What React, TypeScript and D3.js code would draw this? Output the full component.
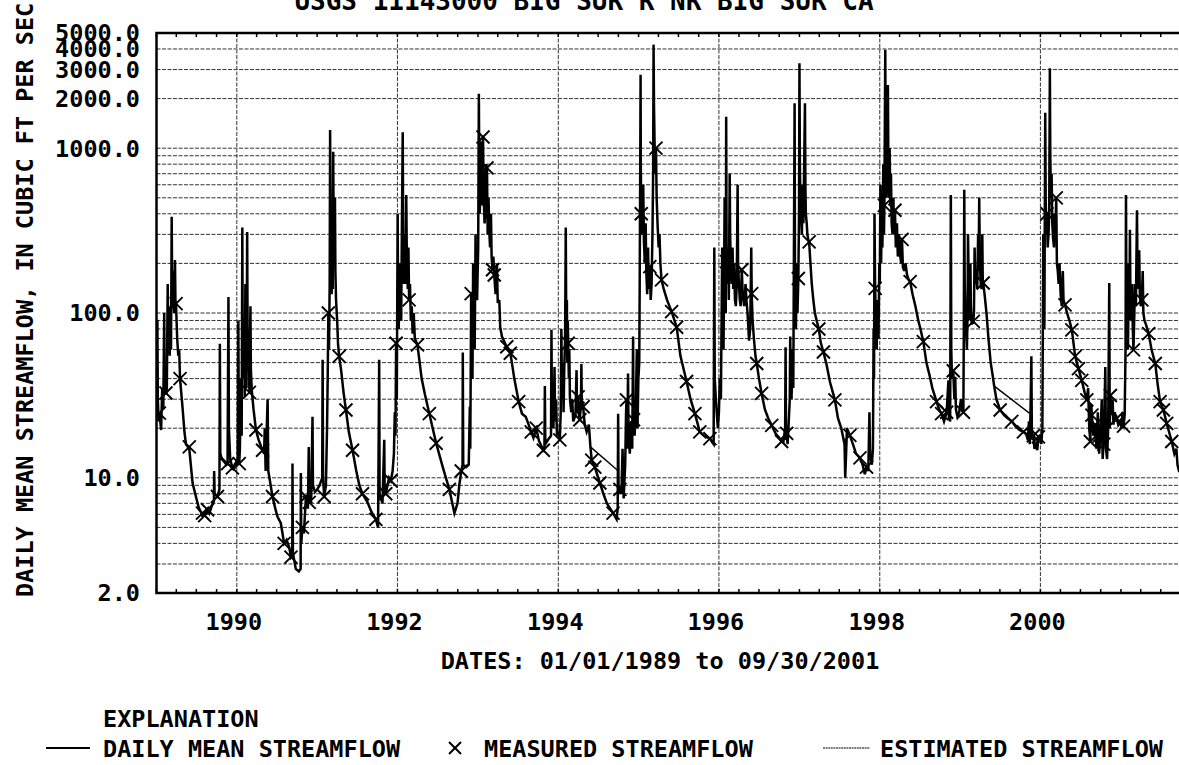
import * as d3 from 'd3';

type Obs = [string, number];

// daily mean streamflow, cubic ft per sec
const flow1989: Obs[] = [
  ['1989-01-01', 28], ['1989-01-05', 91], ['1989-01-07', 30], ['1989-01-11', 22], ['1989-01-14', 25],
  ['1989-01-22', 19.5], ['1989-01-27', 35], ['1989-02-01', 26], ['1989-02-05', 100], ['1989-02-07', 40],
  ['1989-02-13', 32], ['1989-02-17', 35], ['1989-02-21', 150], ['1989-02-24', 60], ['1989-02-27', 110],
  ['1989-03-02', 55], ['1989-03-06', 90], ['1989-03-08', 60], ['1989-03-11', 384], ['1989-03-13', 150],
  ['1989-03-16', 110], ['1989-03-19', 180], ['1989-03-22', 100], ['1989-03-26', 210], ['1989-03-28', 120],
  ['1989-03-31', 110], ['1989-04-05', 70], ['1989-04-10', 55], ['1989-04-14', 60], ['1989-04-18', 40],
  ['1989-04-30', 26], ['1989-05-08', 19], ['1989-05-15', 16], ['1989-05-30', 15], ['1989-06-06', 12],
  ['1989-06-14', 9.3], ['1989-06-29', 7.7], ['1989-07-12', 6.6], ['1989-07-29', 5.9], ['1989-08-08', 6.0],
  ['1989-08-21', 6.4], ['1989-08-29', 6.1], ['1989-09-10', 6.8], ['1989-09-19', 7.2], ['1989-09-20', 11],
  ['1989-09-22', 8], ['1989-10-05', 7.7], ['1989-10-14', 8.5], ['1989-10-16', 65], ['1989-10-18', 14],
  ['1989-10-25', 13], ['1989-11-05', 12.5], ['1989-11-15', 12], ['1989-11-20', 12.2], ['1989-11-24', 125],
  ['1989-11-26', 20], ['1989-12-02', 13], ['1989-12-12', 11.5], ['1989-12-22', 12], ['1989-12-30', 12.5],
];

const flow1990: Obs[] = [
  ['1990-01-05', 12], ['1990-01-08', 90], ['1990-01-10', 20], ['1990-01-12', 12.2], ['1990-01-15', 15],
  ['1990-01-20', 40], ['1990-01-23', 18], ['1990-01-26', 330], ['1990-01-28', 60], ['1990-02-01', 40],
  ['1990-02-04', 70], ['1990-02-06', 31], ['1990-02-09', 150], ['1990-02-11', 50], ['1990-02-14', 35],
  ['1990-02-17', 310], ['1990-02-19', 80], ['1990-02-22', 45], ['1990-02-25', 60], ['1990-02-27', 33],
  ['1990-03-04', 110], ['1990-03-06', 45], ['1990-03-10', 34], ['1990-03-18', 26], ['1990-03-29', 19.5],
  ['1990-04-10', 17], ['1990-04-28', 14.7], ['1990-05-05', 14], ['1990-05-08', 20], ['1990-05-12', 11],
  ['1990-05-16', 18], ['1990-05-21', 30], ['1990-05-24', 11], ['1990-06-01', 9.5], ['1990-06-12', 7.7],
  ['1990-06-25', 6.5], ['1990-07-05', 5.8], ['1990-07-20', 5.3], ['1990-08-04', 4.0], ['1990-08-15', 4.2],
  ['1990-08-27', 3.8], ['1990-09-04', 3.3], ['1990-09-10', 3.4], ['1990-09-11', 12.2], ['1990-09-13', 3.5],
  ['1990-09-26', 2.8], ['1990-10-10', 2.7], ['1990-10-18', 2.8], ['1990-10-19', 10.7], ['1990-10-21', 4],
  ['1990-10-26', 5.0], ['1990-11-02', 4.6], ['1990-11-11', 7.7], ['1990-11-20', 6.5], ['1990-11-24', 15.4],
  ['1990-11-26', 7.1], ['1990-12-05', 7.5], ['1990-12-11', 23.5], ['1990-12-13', 9], ['1990-12-22', 8.2],
];

const flow1991: Obs[] = [
  ['1991-01-01', 8.5], ['1991-01-12', 9], ['1991-01-24', 10], ['1991-01-26', 52], ['1991-01-28', 10],
  ['1991-02-02', 7.7], ['1991-02-10', 9], ['1991-02-15', 20], ['1991-02-18', 40], ['1991-02-21', 100],
  ['1991-02-24', 60], ['1991-02-27', 150], ['1991-03-01', 1290], ['1991-03-03', 400], ['1991-03-05', 200],
  ['1991-03-08', 130], ['1991-03-11', 250], ['1991-03-13', 140], ['1991-03-15', 950], ['1991-03-17', 350],
  ['1991-03-20', 200], ['1991-03-23', 500], ['1991-03-25', 180], ['1991-03-28', 120], ['1991-04-02', 90],
  ['1991-04-06', 65], ['1991-04-11', 54.6], ['1991-04-20', 45], ['1991-05-01', 33], ['1991-05-12', 25.8],
  ['1991-05-25', 19], ['1991-06-11', 14.7], ['1991-06-28', 11], ['1991-07-12', 9], ['1991-07-26', 8],
  ['1991-08-18', 7.1], ['1991-09-05', 6.2], ['1991-09-25', 5.6], ['1991-10-05', 5.0], ['1991-10-10', 52],
  ['1991-10-12', 8], ['1991-10-25', 7], ['1991-11-02', 17], ['1991-11-04', 8.5], ['1991-11-09', 8.0],
  ['1991-11-24', 10], ['1991-12-02', 9.6], ['1991-12-10', 11], ['1991-12-16', 14], ['1991-12-20', 25],
  ['1991-12-23', 18], ['1991-12-26', 65], ['1991-12-29', 30],
];

const flow1992: Obs[] = [
  ['1992-01-02', 400], ['1992-01-04', 120], ['1992-01-07', 80], ['1992-01-10', 200], ['1992-01-12', 100],
  ['1992-01-15', 130], ['1992-01-18', 90], ['1992-01-21', 300], ['1992-01-25', 1250], ['1992-01-27', 300],
  ['1992-01-30', 150], ['1992-02-03', 300], ['1992-02-06', 150], ['1992-02-10', 520], ['1992-02-13', 200],
  ['1992-02-17', 140], ['1992-02-20', 250], ['1992-02-23', 120], ['1992-02-27', 150], ['1992-03-02', 90],
  ['1992-03-06', 110], ['1992-03-10', 75], ['1992-03-15', 100], ['1992-03-20', 70], ['1992-04-01', 64],
  ['1992-04-20', 40], ['1992-05-05', 32], ['1992-05-25', 24.5], ['1992-06-25', 16.2], ['1992-07-25', 11.6],
  ['1992-08-24', 8.5], ['1992-09-16', 6.1], ['1992-09-30', 7], ['1992-10-08', 9], ['1992-10-17', 11],
  ['1992-10-23', 12], ['1992-10-24', 57.6], ['1992-10-26', 12], ['1992-11-09', 11.6], ['1992-11-20', 12],
  ['1992-11-25', 27], ['1992-11-27', 15], ['1992-12-01', 131], ['1992-12-03', 50], ['1992-12-07', 40],
  ['1992-12-10', 200], ['1992-12-12', 80], ['1992-12-17', 60], ['1992-12-21', 300], ['1992-12-23', 150],
  ['1992-12-28', 120],
];

const flow1993: Obs[] = [
  ['1993-01-02', 250], ['1993-01-05', 2140], ['1993-01-07', 700], ['1993-01-09', 400], ['1993-01-12', 600],
  ['1993-01-15', 1100], ['1993-01-18', 450], ['1993-01-21', 600], ['1993-01-24', 1170], ['1993-01-27', 500],
  ['1993-01-31', 350], ['1993-02-03', 400], ['1993-02-07', 800], ['1993-02-11', 760], ['1993-02-14', 300],
  ['1993-02-18', 500], ['1993-02-21', 320], ['1993-02-25', 250], ['1993-03-01', 400], ['1993-03-04', 220],
  ['1993-03-08', 183], ['1993-03-12', 220], ['1993-03-16', 170], ['1993-03-22', 130], ['1993-03-28', 200],
  ['1993-04-01', 115], ['1993-04-08', 120], ['1993-04-12', 82], ['1993-04-20', 72], ['1993-05-12', 62],
  ['1993-05-28', 57], ['1993-06-04', 50], ['1993-06-15', 40], ['1993-07-05', 29], ['1993-07-20', 24.5],
  ['1993-08-06', 23.5], ['1993-08-31', 19], ['1993-09-10', 17.5], ['1993-09-23', 20], ['1993-10-05', 16.8],
  ['1993-10-25', 14.7], ['1993-10-30', 15], ['1993-11-01', 36], ['1993-11-03', 16], ['1993-11-15', 17],
  ['1993-11-29', 18], ['1993-12-01', 79], ['1993-12-03', 25], ['1993-12-10', 20], ['1993-12-15', 47],
  ['1993-12-17', 22], ['1993-12-22', 30], ['1993-12-26', 18], ['1993-12-31', 19],
];

const flow1994: Obs[] = [
  ['1994-01-04', 18], ['1994-01-08', 17], ['1994-01-12', 25], ['1994-01-15', 80], ['1994-01-18', 30],
  ['1994-01-22', 50], ['1994-01-25', 25], ['1994-01-28', 45], ['1994-02-01', 70], ['1994-02-04', 330],
  ['1994-02-06', 90], ['1994-02-09', 120], ['1994-02-11', 50], ['1994-02-13', 90], ['1994-02-15', 65.5],
  ['1994-02-18', 40], ['1994-02-20', 60], ['1994-02-23', 30], ['1994-03-01', 25], ['1994-03-05', 30],
  ['1994-03-10', 22], ['1994-03-20', 24], ['1994-03-25', 45], ['1994-03-27', 25], ['1994-04-01', 31],
  ['1994-04-05', 24], ['1994-04-09', 22.5], ['1994-04-14', 28], ['1994-04-16', 49], ['1994-04-18', 26],
  ['1994-04-24', 27], ['1994-05-01', 21], ['1994-05-10', 19], ['1994-05-20', 21], ['1994-05-27', 15.4],
  ['1994-06-02', 12.8], ['1994-06-16', 11.6], ['1994-07-09', 9.3], ['1994-07-25', 8], ['1994-08-10', 7],
  ['1994-08-25', 6.5], ['1994-09-07', 6.1], ['1994-09-23', 5.6], ['1994-09-28', 6.5], ['1994-09-30', 24.5],
  ['1994-10-02', 8], ['1994-10-08', 8.5], ['1994-10-15', 8], ['1994-10-20', 15], ['1994-10-25', 7.5],
  ['1994-11-01', 12], ['1994-11-05', 25], ['1994-11-07', 29.7], ['1994-11-10', 15], ['1994-11-14', 43],
  ['1994-11-16', 20], ['1994-11-22', 14], ['1994-11-28', 22], ['1994-12-03', 15], ['1994-12-07', 72],
  ['1994-12-09', 22.5], ['1994-12-14', 18], ['1994-12-20', 30], ['1994-12-24', 60], ['1994-12-27', 20],
  ['1994-12-31', 40],
];

const flow1995: Obs[] = [
  ['1995-01-04', 50], ['1995-01-06', 150], ['1995-01-08', 600], ['1995-01-10', 2790], ['1995-01-11', 800],
  ['1995-01-13', 400], ['1995-01-15', 600], ['1995-01-18', 300], ['1995-01-22', 600], ['1995-01-25', 280],
  ['1995-01-29', 200], ['1995-02-02', 350], ['1995-02-05', 180], ['1995-02-09', 130], ['1995-02-13', 250],
  ['1995-02-16', 140], ['1995-02-21', 191], ['1995-02-25', 120], ['1995-03-01', 150], ['1995-03-05', 300],
  ['1995-03-08', 700], ['1995-03-10', 4250], ['1995-03-12', 1800], ['1995-03-15', 1000], ['1995-03-18', 700],
  ['1995-03-21', 1000], ['1995-03-24', 500], ['1995-03-28', 350], ['1995-04-02', 250], ['1995-04-06', 300],
  ['1995-04-10', 200], ['1995-04-15', 159], ['1995-04-25', 140], ['1995-05-10', 120], ['1995-05-31', 102],
  ['1995-06-23', 82], ['1995-07-10', 55], ['1995-08-07', 38.4], ['1995-08-25', 30], ['1995-09-14', 24.5],
  ['1995-10-06', 19], ['1995-10-25', 18], ['1995-11-21', 17.3], ['1995-12-01', 16.5], ['1995-12-08', 16],
  ['1995-12-11', 250], ['1995-12-13', 40], ['1995-12-18', 30], ['1995-12-22', 25], ['1995-12-27', 20],
];

const flow1996: Obs[] = [
  ['1996-01-01', 25], ['1996-01-05', 40], ['1996-01-10', 30], ['1996-01-16', 250], ['1996-01-18', 80],
  ['1996-01-22', 60], ['1996-01-27', 500], ['1996-01-29', 150], ['1996-02-01', 100], ['1996-02-03', 1550],
  ['1996-02-05', 205], ['1996-02-08', 150], ['1996-02-12', 250], ['1996-02-15', 120], ['1996-02-19', 700],
  ['1996-02-21', 300], ['1996-02-24', 200], ['1996-02-28', 150], ['1996-03-03', 250], ['1996-03-06', 140],
  ['1996-03-10', 200], ['1996-03-14', 120], ['1996-03-18', 110], ['1996-03-22', 150], ['1996-03-26', 600],
  ['1996-03-28', 200], ['1996-04-01', 150], ['1996-04-05', 120], ['1996-04-09', 110], ['1996-04-14', 183],
  ['1996-04-18', 130], ['1996-04-25', 110], ['1996-05-01', 150], ['1996-05-05', 120], ['1996-05-10', 100],
  ['1996-05-17', 68], ['1996-05-22', 80], ['1996-05-25', 150], ['1996-05-27', 250], ['1996-05-29', 131],
  ['1996-06-02', 90], ['1996-06-08', 70], ['1996-06-15', 55], ['1996-06-21', 49.4], ['1996-07-01', 40],
  ['1996-07-13', 32.5], ['1996-07-28', 26], ['1996-08-12', 23], ['1996-08-28', 20.8], ['1996-09-15', 18.5],
  ['1996-10-01', 17.5], ['1996-10-12', 16.6], ['1996-10-20', 16.5], ['1996-10-28', 20], ['1996-10-30', 62],
  ['1996-11-01', 17], ['1996-11-04', 18.6], ['1996-11-08', 16], ['1996-11-12', 20], ['1996-11-18', 30],
  ['1996-11-20', 72], ['1996-11-22', 40], ['1996-11-26', 30], ['1996-12-01', 60], ['1996-12-04', 35],
  ['1996-12-10', 1875], ['1996-12-12', 120], ['1996-12-16', 80], ['1996-12-20', 200], ['1996-12-23', 100],
  ['1996-12-27', 162], ['1996-12-30', 400],
];

const flow1997: Obs[] = [
  ['1997-01-01', 3280], ['1997-01-03', 800], ['1997-01-05', 500], ['1997-01-08', 400], ['1997-01-12', 300],
  ['1997-01-16', 600], ['1997-01-19', 350], ['1997-01-26', 1875], ['1997-01-28', 600], ['1997-01-30', 400],
  ['1997-02-03', 350], ['1997-02-06', 300], ['1997-02-10', 280], ['1997-02-14', 270], ['1997-02-20', 200],
  ['1997-02-26', 150], ['1997-03-05', 120], ['1997-03-12', 100], ['1997-03-20', 90], ['1997-03-30', 80],
  ['1997-04-08', 66], ['1997-04-20', 58], ['1997-05-05', 48], ['1997-05-20', 38], ['1997-06-11', 29.7],
  ['1997-06-25', 23], ['1997-07-10', 20], ['1997-07-25', 16], ['1997-07-28', 10], ['1997-08-01', 14],
  ['1997-08-05', 20], ['1997-08-18', 18.1], ['1997-09-01', 16], ['1997-09-15', 14], ['1997-10-03', 13.2],
  ['1997-10-15', 12], ['1997-10-25', 10.5], ['1997-11-02', 11.6], ['1997-11-10', 11], ['1997-11-15', 25],
  ['1997-11-18', 14], ['1997-11-26', 12], ['1997-12-01', 15], ['1997-12-04', 80], ['1997-12-06', 40],
  ['1997-12-08', 400], ['1997-12-11', 141], ['1997-12-14', 100], ['1997-12-18', 60], ['1997-12-22', 120],
  ['1997-12-26', 70], ['1997-12-30', 200],
];

const flow1998: Obs[] = [
  ['1998-01-01', 150], ['1998-01-04', 600], ['1998-01-07', 200], ['1998-01-10', 350], ['1998-01-13', 250],
  ['1998-01-17', 800], ['1998-01-20', 300], ['1998-01-22', 450], ['1998-01-26', 3960], ['1998-01-28', 900],
  ['1998-01-31', 500], ['1998-02-03', 1500], ['1998-02-05', 700], ['1998-02-07', 2420], ['1998-02-09', 800],
  ['1998-02-12', 500], ['1998-02-15', 1000], ['1998-02-18', 450], ['1998-02-21', 700], ['1998-02-24', 350],
  ['1998-02-28', 300], ['1998-03-04', 500], ['1998-03-07', 300], ['1998-03-11', 420], ['1998-03-15', 250],
  ['1998-03-20', 350], ['1998-03-24', 220], ['1998-03-29', 300], ['1998-04-03', 230], ['1998-04-08', 200],
  ['1998-04-12', 280], ['1998-04-16', 190], ['1998-04-22', 180], ['1998-04-28', 200], ['1998-05-05', 170],
  ['1998-05-12', 160], ['1998-05-19', 155], ['1998-05-30', 130], ['1998-06-12', 110], ['1998-06-25', 90],
  ['1998-07-05', 80], ['1998-07-18', 67], ['1998-08-01', 50], ['1998-08-15', 42], ['1998-08-28', 35],
  ['1998-09-16', 29], ['1998-09-28', 26], ['1998-10-09', 24.5], ['1998-10-20', 22], ['1998-11-01', 25],
  ['1998-11-09', 39], ['1998-11-11', 23], ['1998-11-17', 22], ['1998-11-20', 520], ['1998-11-22', 60],
  ['1998-11-25', 40], ['1998-12-01', 44.6], ['1998-12-06', 30], ['1998-12-10', 41], ['1998-12-13', 26],
  ['1998-12-20', 23.5], ['1998-12-28', 25],
];

const flow1999: Obs[] = [
  ['1999-01-05', 30], ['1999-01-10', 26], ['1999-01-16', 25], ['1999-01-18', 80], ['1999-01-20', 560],
  ['1999-01-22', 150], ['1999-01-25', 100], ['1999-01-28', 80], ['1999-02-01', 60], ['1999-02-04', 100],
  ['1999-02-06', 300], ['1999-02-08', 200], ['1999-02-11', 120], ['1999-02-14', 90], ['1999-02-17', 200],
  ['1999-02-19', 110], ['1999-02-23', 85], ['1999-02-26', 90], ['1999-03-02', 89], ['1999-03-05', 100],
  ['1999-03-08', 250], ['1999-03-11', 150], ['1999-03-15', 180], ['1999-03-20', 140], ['1999-03-24', 300],
  ['1999-03-26', 180], ['1999-03-29', 500], ['1999-04-01', 200], ['1999-04-05', 150], ['1999-04-09', 140],
  ['1999-04-12', 300], ['1999-04-14', 160], ['1999-04-16', 152], ['1999-04-22', 131], ['1999-05-01', 100],
  ['1999-05-10', 70], ['1999-05-20', 50], ['1999-05-30', 41], ['1999-06-05', 36], ['1999-06-15', 30],
  ['1999-07-02', 25.8], ['1999-07-20', 24], ['1999-08-05', 23], ['1999-08-24', 22], ['1999-09-10', 20.5],
  ['1999-09-28', 19.5], ['1999-10-16', 19], ['1999-10-28', 18.5], ['1999-11-05', 17], ['1999-11-10', 22],
  ['1999-11-14', 16], ['1999-11-18', 30], ['1999-11-21', 54.6], ['1999-11-23', 20], ['1999-11-27', 17],
  ['1999-11-30', 18], ['1999-12-05', 15], ['1999-12-12', 16], ['1999-12-18', 14.7], ['1999-12-23', 17.7],
  ['1999-12-28', 18],
];

const flow2000: Obs[] = [
  ['2000-01-01', 18], ['2000-01-05', 16], ['2000-01-10', 20], ['2000-01-14', 300], ['2000-01-16', 100],
  ['2000-01-19', 80], ['2000-01-23', 1640], ['2000-01-25', 500], ['2000-01-28', 300], ['2000-01-31', 400],
  ['2000-02-03', 250], ['2000-02-07', 300], ['2000-02-10', 400], ['2000-02-13', 3060], ['2000-02-15', 900],
  ['2000-02-18', 500], ['2000-02-21', 700], ['2000-02-24', 350], ['2000-02-28', 280], ['2000-03-03', 250],
  ['2000-03-06', 400], ['2000-03-09', 300], ['2000-03-13', 500], ['2000-03-16', 200], ['2000-03-20', 180],
  ['2000-03-24', 150], ['2000-03-28', 200], ['2000-04-02', 130], ['2000-04-07', 110], ['2000-04-12', 180],
  ['2000-04-15', 120], ['2000-04-22', 112], ['2000-05-01', 100], ['2000-05-12', 90], ['2000-05-23', 79],
  ['2000-06-07', 54.6], ['2000-06-22', 46], ['2000-07-07', 39], ['2000-07-20', 33], ['2000-07-30', 29.7],
  ['2000-08-05', 35], ['2000-08-10', 20], ['2000-08-15', 16.6], ['2000-08-19', 28], ['2000-08-22', 24],
  ['2000-08-29', 18], ['2000-09-06', 21], ['2000-09-12', 15], ['2000-09-18', 25], ['2000-09-24', 14],
  ['2000-10-01', 20], ['2000-10-06', 30], ['2000-10-10', 13], ['2000-10-16', 18], ['2000-10-22', 47],
  ['2000-10-25', 15], ['2000-10-30', 13], ['2000-11-04', 20], ['2000-11-09', 152], ['2000-11-11', 20],
  ['2000-11-14', 31.6], ['2000-11-18', 24], ['2000-11-24', 30], ['2000-11-28', 21], ['2000-12-04', 25],
  ['2000-12-09', 22], ['2000-12-13', 22.9], ['2000-12-20', 21], ['2000-12-28', 22],
];

const flow2001: Obs[] = [
  ['2001-01-04', 20], ['2001-01-08', 25], ['2001-01-10', 21], ['2001-01-13', 20.6], ['2001-01-18', 24],
  ['2001-01-22', 60], ['2001-01-24', 520], ['2001-01-26', 120], ['2001-01-29', 80], ['2001-02-02', 60],
  ['2001-02-06', 200], ['2001-02-08', 90], ['2001-02-11', 320], ['2001-02-13', 130], ['2001-02-17', 90],
  ['2001-02-20', 150], ['2001-02-24', 80], ['2001-02-27', 59.8], ['2001-03-03', 100], ['2001-03-05', 150],
  ['2001-03-10', 110], ['2001-03-15', 420], ['2001-03-17', 200], ['2001-03-21', 140], ['2001-03-25', 240],
  ['2001-03-28', 130], ['2001-04-01', 110], ['2001-04-06', 120], ['2001-04-10', 180], ['2001-04-13', 100],
  ['2001-04-18', 90], ['2001-04-25', 85], ['2001-05-07', 75], ['2001-05-20', 60], ['2001-06-06', 49.4],
  ['2001-06-18', 36], ['2001-06-28', 29], ['2001-07-13', 25.8], ['2001-07-28', 21.4], ['2001-08-10', 18.5],
  ['2001-08-20', 16.6], ['2001-09-01', 14], ['2001-09-10', 15], ['2001-09-15', 12], ['2001-09-22', 11],
  ['2001-09-30', 11],
];

// field measurements (x markers)
const measured: Obs[] = [
  ['1989-01-14', 24.7], ['1989-02-13', 32.7], ['1989-03-31', 114], ['1989-04-18', 40], ['1989-05-30', 15.4],
  ['1989-07-29', 6.1], ['1989-08-08', 5.9], ['1989-08-21', 6.4], ['1989-10-05', 7.7], ['1989-11-20', 12.2],
  ['1989-12-12', 11.5], ['1990-01-12', 12.2], ['1990-02-27', 33], ['1990-03-29', 19.5], ['1990-04-28', 14.7],
  ['1990-06-12', 7.7], ['1990-08-04', 4.0], ['1990-09-04', 3.3], ['1990-10-26', 5.0], ['1990-11-11', 7.7],
  ['1990-11-26', 7.1], ['1991-02-02', 7.7], ['1991-02-21', 100], ['1991-04-11', 54.6], ['1991-05-12', 25.8],
  ['1991-06-11', 14.7], ['1991-07-26', 8.0], ['1991-09-25', 5.6], ['1991-11-09', 8.0], ['1991-12-02', 9.6],
  ['1991-12-26', 65.5], ['1992-02-23', 120], ['1992-04-01', 64], ['1992-05-25', 24.5], ['1992-06-25', 16.2],
  ['1992-08-24', 8.5], ['1992-10-17', 11], ['1992-12-01', 131], ['1993-01-24', 1170], ['1993-02-11', 760],
  ['1993-03-08', 183], ['1993-03-16', 170], ['1993-05-12', 62.4], ['1993-05-28', 57], ['1993-07-05', 29],
  ['1993-08-31', 19], ['1993-09-23', 20], ['1993-10-25', 14.7], ['1994-01-08', 17], ['1994-02-15', 65.5],
  ['1994-04-01', 31], ['1994-04-09', 22.5], ['1994-04-24', 27], ['1994-06-02', 12.8], ['1994-06-16', 11.6],
  ['1994-07-09', 9.3], ['1994-09-07', 6.1], ['1994-10-08', 8.5], ['1994-11-07', 29.7], ['1994-12-09', 22.5],
  ['1995-01-13', 400], ['1995-02-21', 191], ['1995-03-21', 1000], ['1995-04-15', 159], ['1995-05-31', 102],
  ['1995-06-23', 82], ['1995-08-07', 38.4], ['1995-09-14', 24.5], ['1995-10-06', 19], ['1995-11-21', 17.3],
  ['1996-02-05', 205], ['1996-04-14', 183], ['1996-05-29', 131], ['1996-06-21', 49.4], ['1996-07-13', 32.5],
  ['1996-08-28', 20.8], ['1996-10-12', 16.6], ['1996-11-04', 18.6], ['1996-12-27', 162], ['1997-02-14', 270],
  ['1997-03-30', 80], ['1997-04-20', 58], ['1997-06-11', 29.7], ['1997-08-18', 18.1], ['1997-10-03', 13.2],
  ['1997-11-02', 11.6], ['1997-12-11', 141], ['1998-01-22', 450], ['1998-03-11', 420], ['1998-04-12', 280],
  ['1998-05-19', 155], ['1998-07-18', 67], ['1998-09-16', 29], ['1998-10-09', 24.5], ['1998-11-01', 25],
  ['1998-12-01', 44.6], ['1999-01-16', 25], ['1999-03-02', 89], ['1999-04-16', 152], ['1999-07-02', 25.8],
  ['1999-08-24', 22], ['1999-10-16', 19], ['1999-11-30', 18], ['1999-12-23', 17.7], ['2000-01-31', 400],
  ['2000-03-13', 500], ['2000-04-22', 112], ['2000-05-23', 79], ['2000-06-07', 54.6], ['2000-06-22', 46],
  ['2000-07-07', 39], ['2000-07-30', 29.7], ['2000-08-15', 16.6], ['2000-08-22', 24], ['2000-09-06', 21],
  ['2000-09-25', 18], ['2000-10-15', 16], ['2000-11-14', 31.6], ['2000-12-13', 22.9], ['2001-01-13', 20.6],
  ['2001-02-27', 59.8], ['2001-04-06', 120], ['2001-05-07', 75], ['2001-06-06', 49.4], ['2001-06-28', 29],
  ['2001-07-13', 25.8], ['2001-07-28', 21.4], ['2001-08-20', 16.6],
];

// estimated streamflow spans
const estimated1994: Obs[] = [['1994-05-27', 15.4], ['1994-10-01', 11]];
const estimated1999: Obs[] = [['1999-06-01', 36.4], ['1999-11-15', 24.5]];

const yLabelValues = [5000, 4000, 3000, 2000, 1000, 100, 10, 2];
const yGridValues = [
  3, 4, 5, 6, 7, 8, 9, 10, 20, 30, 40, 50, 60, 70, 80, 90,
  100, 200, 300, 400, 500, 600, 700, 800, 900, 1000, 2000, 3000, 4000,
];
const yearLabels = [1990, 1992, 1994, 1996, 1998, 2000];

const W = 1179;
const H = 765;
const FONT = '"DejaVu Sans Mono", "Liberation Mono", monospace';
const parse = d3.utcParse('%Y-%m-%d');

interface Pt {
  date: Date;
  value: number;
}

const toPts = (rows: Obs[]): Pt[] => rows.map(([d, v]) => ({ date: parse(d)!, value: v }));

export default function App() {
  const start = parse('1989-01-01')!;
  const end = parse('2001-10-01')!;
  const x = d3.scaleUtc().domain([start, end]).range([156.5, 1181]);
  const y = d3.scaleLog().domain([2, 5000]).range([593, 33]);
  const [x0, x1] = x.range();
  const [yb, yt] = y.range();

  const daily = toPts([
    ...flow1989, ...flow1990, ...flow1991, ...flow1992, ...flow1993, ...flow1994, ...flow1995,
    ...flow1996, ...flow1997, ...flow1998, ...flow1999, ...flow2000, ...flow2001,
  ]);
  const line = d3
    .line<Pt>()
    .x((d) => x(d.date))
    .y((d) => y(d.value));
  const quarters = d3.utcMonth.every(3)!.range(start, end);

  const textStyle = { fontFamily: FONT, fontWeight: 700, fontSize: 23.5, fill: '#000' } as const;

  const cross = (cx: number, cy: number, r: number, key?: string) => (
    <g key={key} stroke="#000" strokeWidth={1.9}>
      <line x1={cx - r} y1={cy - r} x2={cx + r} y2={cy + r} />
      <line x1={cx - r} y1={cy + r} x2={cx + r} y2={cy - r} />
    </g>
  );

  return (
    <svg
      width={W}
      height={H}
      viewBox={`0 0 ${W} ${H}`}
      style={{ position: 'absolute', left: 0, top: 0, background: '#fff' }}
    >
      <defs>
        <clipPath id="plot">
          <rect x={x0} y={yt} width={x1 - x0} height={yb - yt} />
        </clipPath>
      </defs>

      <text x={584} y={10} textAnchor="middle" style={{ ...textStyle, fontSize: 26 }}>
        USGS 11143000 BIG SUR R NR BIG SUR CA
      </text>

      {/* grid */}
      <g stroke="#333" strokeWidth={1} strokeDasharray="4 1.5">
        {yGridValues.map((v) => (
          <line key={v} x1={x0} x2={x1} y1={y(v)} y2={y(v)} />
        ))}
        {yearLabels.map((yr) => {
          const gx = x(Date.UTC(yr, 0, 1));
          return <line key={yr} x1={gx} x2={gx} y1={yt} y2={yb} />;
        })}
      </g>

      {/* quarterly ticks on top and bottom */}
      <g stroke="#000" strokeWidth={1.5}>
        {quarters.map((q) => (
          <g key={q.getTime()}>
            <line x1={x(q)} x2={x(q)} y1={yt} y2={yt + 4} />
            <line x1={x(q)} x2={x(q)} y1={yb} y2={yb - 4} />
          </g>
        ))}
      </g>

      <g clipPath="url(#plot)">
        <path d={line(daily) ?? ''} fill="none" stroke="#000" strokeWidth={2.5} />
        {[estimated1994, estimated1999].map((seg, i) => (
          <path key={i} d={line(toPts(seg)) ?? ''} fill="none" stroke="#000" strokeWidth={1.4} />
        ))}
        {toPts(measured).map((m, i) => cross(x(m.date), y(m.value), 6.5, `m${i}`))}
      </g>

      <rect x={x0} y={yt} width={x1 - x0} height={yb - yt} fill="none" stroke="#000" strokeWidth={2.5} />

      {/* y labels */}
      {yLabelValues.map((v) => (
        <text key={v} x={140} y={y(v)} dy="0.36em" textAnchor="end" style={textStyle}>
          {v.toFixed(1)}
        </text>
      ))}

      {/* x labels */}
      {yearLabels.map((yr) => (
        <text key={yr} x={x(Date.UTC(yr, 0, 1)) - 3} y={630} textAnchor="middle" style={textStyle}>
          {yr}
        </text>
      ))}

      <text x={660} y={669} textAnchor="middle" style={textStyle}>
        DATES: 01/01/1989 to 09/30/2001
      </text>

      <text transform="translate(33,597) rotate(-90)" style={textStyle}>
        DAILY MEAN STREAMFLOW, IN CUBIC FT PER SEC
      </text>

      {/* legend */}
      <text x={103} y={727} style={textStyle}>
        EXPLANATION
      </text>
      <line x1={46} x2={90} y1={748} y2={748} stroke="#000" strokeWidth={2} />
      <text x={103} y={757} style={textStyle}>
        DAILY MEAN STREAMFLOW
      </text>
      {cross(455, 748, 6)}
      <text x={484} y={757} style={textStyle}>
        MEASURED STREAMFLOW
      </text>
      <line x1={823} x2={870} y1={748} y2={748} stroke="#000" strokeWidth={1.2} strokeDasharray="2 0.6" />
      <text x={880} y={757} style={textStyle}>
        ESTIMATED STREAMFLOW
      </text>
    </svg>
  );
}
